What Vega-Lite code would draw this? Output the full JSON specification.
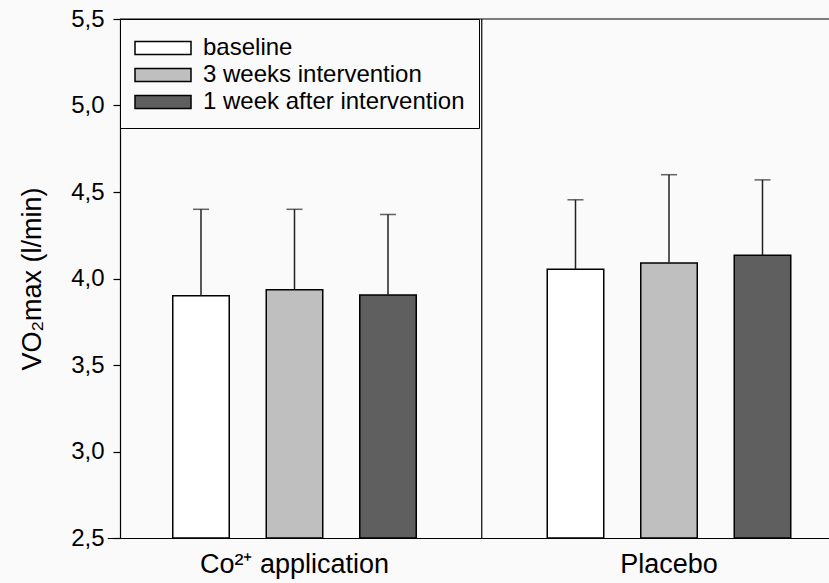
{
  "$schema": "https://vega.github.io/schema/vega-lite/v6.json",
  "width": 709,
  "height": 519,
  "autosize": {"type": "none"},
  "padding": {"left": 120, "top": 19, "right": 0, "bottom": 45},
  "background": "#fafafa",
  "layer": [
    {
      "data": {
        "values": [
          {"group": "Co²⁺ application", "condition": "baseline", "mean": 3.90, "upper": 4.40},
          {"group": "Co²⁺ application", "condition": "3 weeks intervention", "mean": 3.935, "upper": 4.40},
          {"group": "Co²⁺ application", "condition": "1 week after intervention", "mean": 3.905, "upper": 4.37},
          {"group": "Placebo", "condition": "baseline", "mean": 4.053, "upper": 4.455},
          {"group": "Placebo", "condition": "3 weeks intervention", "mean": 4.09, "upper": 4.60},
          {"group": "Placebo", "condition": "1 week after intervention", "mean": 4.134, "upper": 4.57}
        ]
      },
      "encoding": {
        "x": {
          "field": "group",
          "type": "nominal",
          "scale": {"domain": ["Co²⁺ application", "Placebo"], "range": [-12.75, 736.25], "paddingInner": 0, "paddingOuter": 0},
          "axis": {"title": null, "ticks": false, "labelAngle": 0, "labelFontSize": 27, "labelPadding": 13, "labelLimit": 400, "labelFont": "Liberation Sans", "labelColor": "black", "domainColor": "black", "domainWidth": 1.2}
        },
        "xOffset": {"field": "condition", "type": "nominal", "scale": {"domain": ["baseline", "3 weeks intervention", "1 week after intervention"], "paddingInner": 0.3957, "paddingOuter": 0.7005}}
      },
      "layer": [
        {
          "mark": {"type": "bar", "stroke": "black", "strokeWidth": 1.5},
          "encoding": {
            "y": {
              "field": "mean", "type": "quantitative",
              "scale": {"domain": [2.5, 5.5], "nice": false, "zero": false},
              "axis": {
                "values": [2.5, 3, 3.5, 4, 4.5, 5, 5.5],
                "labelExpr": "replace(format(datum.value, '.1f'), '.', ',')",
                "labelFontSize": 24, "labelFont": "Liberation Sans", "labelColor": "black", "labelPadding": 9,
                "tickSize": 7, "tickColor": "black", "tickWidth": 1.2, "domainColor": "black", "domainWidth": 1.2,
                "grid": false,
                "title": "VO₂max (l/min)", "titleFontSize": 27, "titleFont": "Liberation Sans", "titleFontWeight": "normal", "titleColor": "black", "titlePadding": 24
              }
            },
            "y2": {"datum": 2.5},
            "fill": {
              "field": "condition", "type": "nominal",
              "scale": {"domain": ["baseline", "3 weeks intervention", "1 week after intervention"], "range": ["#ffffff", "#bfbfbf", "#5f5f5f"]},
              "legend": {
                "title": null, "orient": "top-left", "offset": 0, "padding": 14,
                "strokeColor": "black", "fillColor": "#fafafa",
                "symbolType": "M-1,-0.46H3V0.46H-1Z", "symbolSize": 784,
                "symbolStrokeColor": "black", "symbolStrokeWidth": 1.5, "symbolOpacity": 1,
                "labelFontSize": 24, "labelFont": "Liberation Sans", "labelColor": "black", "labelOffset": 39, "labelLimit": 400,
                "rowPadding": 0
              }
            }
          }
        },
        {
          "mark": {"type": "rule", "color": "#222222", "strokeWidth": 1.5},
          "encoding": {
            "y": {"field": "mean", "type": "quantitative"},
            "y2": {"field": "upper"}
          }
        },
        {
          "mark": {"type": "tick", "color": "#222222", "thickness": 1.5, "size": 16},
          "encoding": {
            "y": {"field": "upper", "type": "quantitative"}
          }
        }
      ]
    },
    {
      "data": {"values": [{"group": "Placebo"}]},
      "mark": {"type": "rule", "color": "black", "strokeWidth": 1.2},
      "encoding": {
        "x": {"field": "group", "type": "nominal", "bandPosition": 0}
      }
    },
    {
      "data": {"values": [{"top": 5.5}]},
      "mark": {"type": "rule", "color": "black", "strokeWidth": 1.2},
      "encoding": {
        "y": {"field": "top", "type": "quantitative"}
      }
    }
  ],
  "config": {"view": {"stroke": null}}
}
